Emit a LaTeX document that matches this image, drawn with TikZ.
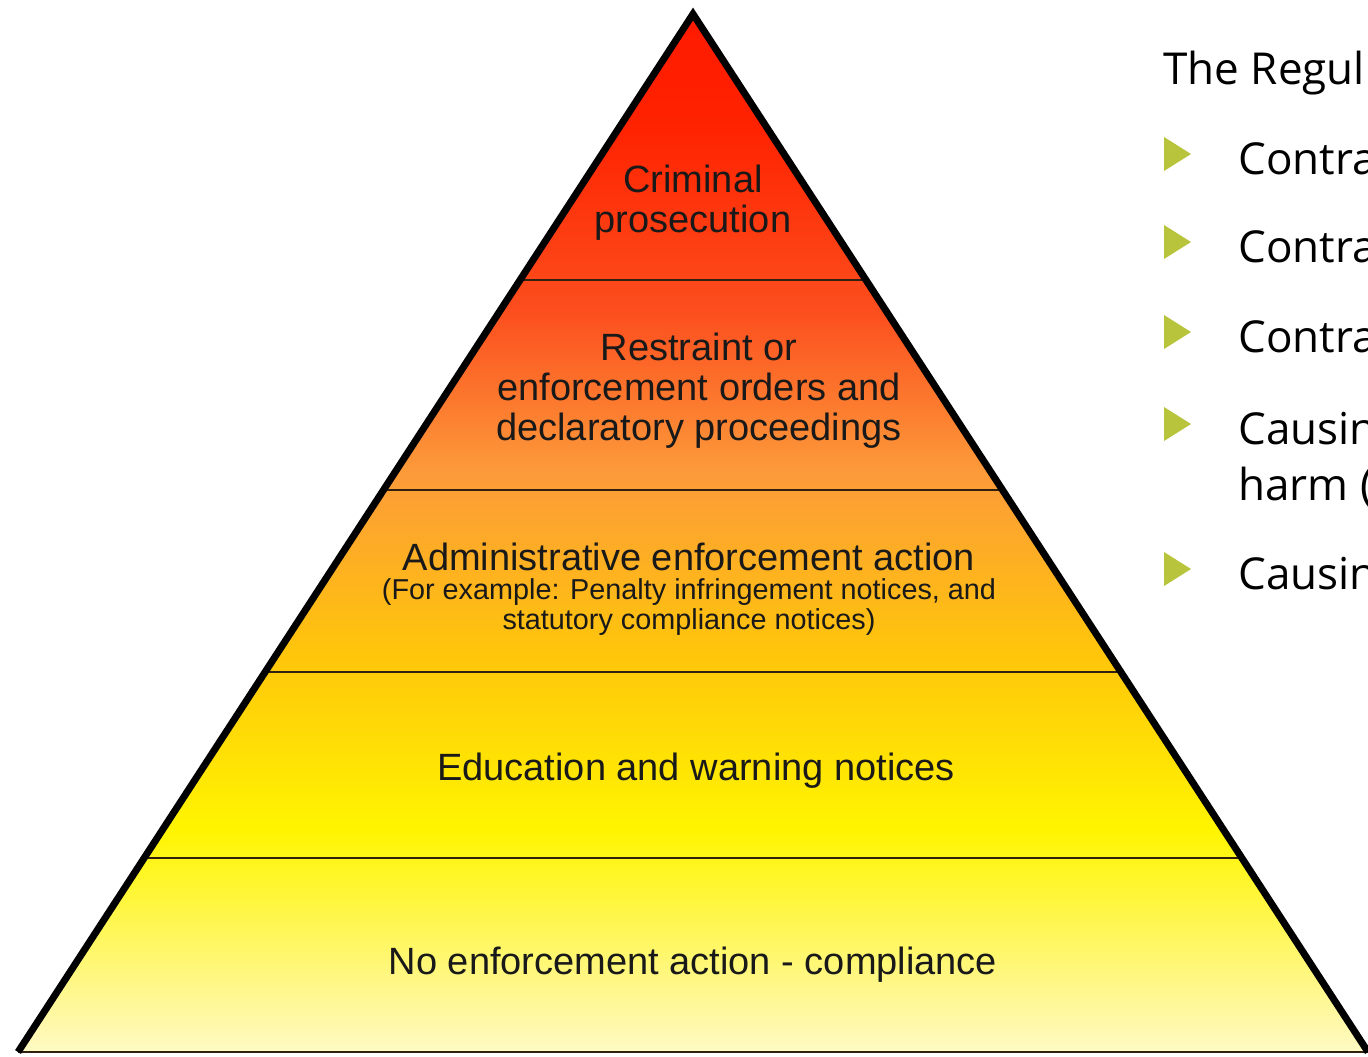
\documentclass[tikz,border=0pt]{standalone}
\usepackage{fontspec}
\setmainfont{Liberation Sans}
\newfontfamily\slidefont{Open Sans}
\usetikzlibrary{calc,positioning}

\definecolor{tierpale}{HTML}{FFFBC4}
\definecolor{tierlight}{HTML}{FFF8A8}
\definecolor{tieryellow}{HTML}{FFF500}
\definecolor{tiergold}{HTML}{FFC60A}
\definecolor{tierorange}{HTML}{FC9A3A}
\definecolor{tierred}{HTML}{FC4E1E}
\definecolor{tiertop}{HTML}{FF2200}
\definecolor{tierapex}{HTML}{FF1A00}
\definecolor{bulletgreen}{HTML}{B8C43C}

% bottom (25bp) to apex (75bp)
\pgfdeclareverticalshading{pyramidfill}{100bp}{%
  color(0bp)=(tierpale); color(25bp)=(tierpale);
  color(26.5bp)=(tierlight); color(35.7bp)=(tieryellow);
  color(44.1bp)=(tiergold); color(53bp)=(tierorange);
  color(60.7bp)=(tierred); color(69.8bp)=(tiertop);
  color(75bp)=(tierapex); color(100bp)=(tierapex)}

\begin{document}
\begin{tikzpicture}[x=0.5pt,y=-0.5pt,
    tier/.style={font=\fontsize{19}{20}\selectfont, align=center, text=black!90},
    tiernote/.style={font=\fontsize{14.4}{15}\selectfont, align=center, text=black!90},
    slide/.style={font=\slidefont\fontsize{22}{28}\selectfont, anchor=base west, inner sep=0pt},
    divider/.style={draw=black!75!brown, line width=0.8pt}]
  \useasboundingbox (0,0) rectangle (1368,1056);
  \clip (0,0) rectangle (1368,1056);

  % the pyramid
  \coordinate (apex) at (693,14);
  \coordinate (bl) at (18,1052);
  \coordinate (br) at (1368,1052);
  \shade[shading=pyramidfill] (apex) -- (bl) -- (br) -- cycle;
  \foreach \t in {0.2563,0.4586,0.6339,0.8131}
    \draw[divider] ($(apex)!\t!(bl)$) -- ($(apex)!\t!(br)$);
  \draw[divider] (bl) -- (br);
  \draw[line width=3.5pt] (bl) -- (apex) -- (br);

  \node[tier] (crim) at (693,203) {Criminal\\prosecution};
  \node[tier] (restr) at (699,391) {Restraint or\\enforcement orders and\\declaratory proceedings};
  \node[tier] (admin) at (689,557) {Administrative enforcement action};
  \node[tiernote] (adminnote) at (689,607) {(For example: Penalty infringement notices, and\\statutory compliance notices)};
  \node[tier] (edu) at (696,771) {Education and warning notices};
  \node[tier] (none) at (693,965) {No enforcement action - compliance};

  % list on the right
  \node[slide] (title) at (1163,84) {The Regul};
  \foreach \y in {154,242,332,424,569}
    \fill[bulletgreen] (1164,\y-17) -- (1191,\y) -- (1164,\y+17) -- cycle;
  \node[slide] (item1) at (1238,174) {Contra};
  \node[slide] (item2) at (1238,262) {Contra};
  \node[slide] (item3) at (1238,352) {Contra};
  \node[slide] (item4) at (1238,444) {Causin};
  \node[slide] (item4b) at (1238,500) {harm (};
  \node[slide] (item5) at (1238,589) {Causin};
\end{tikzpicture}
\end{document}
